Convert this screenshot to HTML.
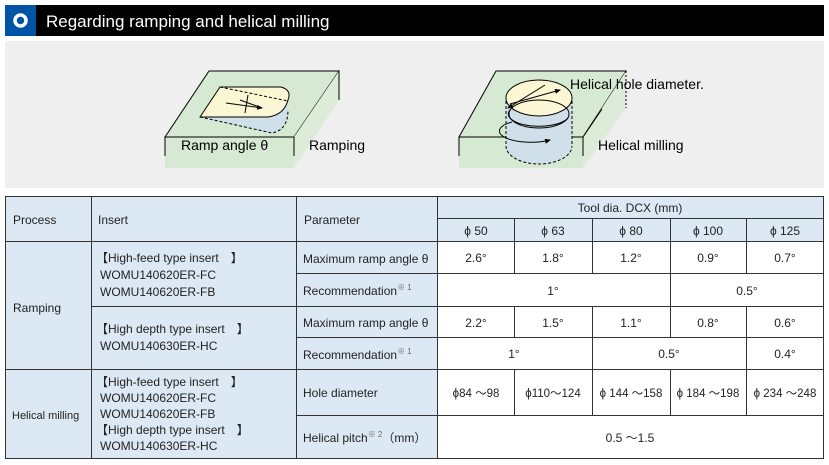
<!DOCTYPE html>
<html><head><meta charset="utf-8"><style>
body{margin:0;background:#fff;width:829px;height:465px;overflow:hidden}
svg{display:block;font-family:"Liberation Sans","Noto Sans CJK JP",sans-serif}
</style></head><body>
<svg width="829" height="465" viewBox="0 0 829 465">
<defs><marker id="a" markerWidth="6" markerHeight="6" refX="5" refY="3" orient="auto"><path d="M0,0.5 L6,3 L0,5.5z" fill="#000"/></marker></defs>
<rect x="5" y="5" width="819" height="31" fill="#000"/>
<rect x="5" y="5" width="31" height="31" fill="#0054a6"/>
<circle cx="20.5" cy="20.5" r="5.5" fill="none" stroke="#fff" stroke-width="3.5"/>
<text x="46" y="27" fill="#fff" font-size="17">Regarding ramping and helical milling</text>
<rect x="5" y="41" width="819" height="147" fill="#efefef"/>
<g stroke="#000" stroke-width="1" fill="#d6ead3">
<polygon points="165,137 209,71 339,71 294,137"/>
<polygon points="294,137 339,71 339,100 294,168" fill="#dcecd8" stroke="none"/>
<line x1="339" y1="71" x2="339" y2="100"/>
<rect x="165" y="137" width="129" height="31" stroke="none"/>
<line x1="165" y1="137" x2="294" y2="137"/><line x1="165" y1="137" x2="165" y2="156"/><line x1="294" y1="137" x2="294" y2="156"/>
</g>
<path d="M200,117 L268,117 Q284,115 288,100 L288,110 Q286,130 272,133 Z" fill="#cfe0ea" stroke="none"/>
<path d="M200,117 L220,87 L281,87 Q292,90 288,100 Q284,115 268,117 Z" fill="#fbf6d3" stroke="#000"/>
<path d="M200,117 L272,133 Q288,130 288,110" fill="none" stroke="#000" stroke-dasharray="3,2"/>
<line x1="220" y1="87" x2="288" y2="101" stroke="#000" stroke-dasharray="3,2"/>
<line x1="226" y1="103" x2="262" y2="108" stroke="#000" marker-end="url(#a)"/>
<line x1="262" y1="108" x2="240" y2="100" stroke="#000"/>
<line x1="248" y1="95" x2="245" y2="113" stroke="#000"/>
<text x="181" y="150" font-size="14">Ramp angle θ</text>
<text x="309" y="150" font-size="14">Ramping</text>
<g stroke="#000" fill="#d6ead3">
<polygon points="459,137 496,71 626,71 583,137" />
<polygon points="583,137 626,71 626,108 583,168" fill="#dcecd8" stroke="none"/>
<line x1="626" y1="71" x2="626" y2="108" stroke-dasharray="2,2"/>
<rect x="459" y="137" width="124" height="31" stroke="none"/>
<line x1="459" y1="137" x2="583" y2="137"/><line x1="459" y1="137" x2="459" y2="156"/><line x1="583" y1="137" x2="583" y2="156"/>
<line x1="583" y1="137" x2="602" y2="109"/>
</g>
<path d="M506,101 L506,146 A33,18 0 0 0 572,146 L572,101 Z" fill="#cfe0ea"/>
<line x1="506" y1="101" x2="506" y2="146" stroke="#000" stroke-dasharray="3,2"/>
<line x1="572" y1="101" x2="572" y2="146" stroke="#000" stroke-dasharray="3,2"/>
<path d="M506,146 A33,18 0 0 0 572,146" fill="none" stroke="#000" stroke-dasharray="3,2"/>
<ellipse cx="539" cy="98" rx="33" ry="18" fill="#fbf6d3" stroke="#000"/>
<ellipse cx="539" cy="114" rx="30" ry="14" fill="none" stroke="#000"/>
<path d="M510,110 A30,12 0 0 0 568,118" fill="none" stroke="#000"/>
<path d="M512,122 A28,10 0 0 0 550,140" fill="none" stroke="#000" marker-end="url(#a)"/>
<line x1="510" y1="104" x2="560" y2="90" stroke="#000" marker-end="url(#a)"/>
<line x1="545" y1="85" x2="508" y2="108" stroke="#000" marker-end="url(#a)"/>
<text x="570" y="89" font-size="14">Helical hole diameter.</text>
<text x="598" y="150" font-size="14">Helical milling</text>
<g font-size="12" fill="#222">
<rect x="5" y="196" width="432" height="45" fill="#dde8f5"/>
<rect x="437" y="196" width="387" height="45" fill="#dde8f5"/>
<rect x="5" y="241" width="432" height="218" fill="#dde8f5"/>
<rect x="437" y="241" width="387" height="218" fill="#fff"/>
<g stroke="#333" stroke-width="1" fill="none">
<rect x="5.5" y="196.5" width="818" height="262"/>
<line x1="91.5" y1="196" x2="91.5" y2="459"/>
<line x1="296.5" y1="196" x2="296.5" y2="459"/>
<line x1="437.5" y1="196" x2="437.5" y2="459"/>
<line x1="437" y1="218.5" x2="824" y2="218.5"/>
<line x1="5" y1="241.5" x2="824" y2="241.5"/>
<line x1="296" y1="273.5" x2="824" y2="273.5"/>
<line x1="91" y1="306.5" x2="824" y2="306.5"/>
<line x1="296" y1="337.5" x2="824" y2="337.5"/>
<line x1="5" y1="369.5" x2="824" y2="369.5"/>
<line x1="296" y1="415.5" x2="824" y2="415.5"/>
<line x1="514.5" y1="218" x2="514.5" y2="273"/><line x1="592.5" y1="218" x2="592.5" y2="273"/><line x1="670.5" y1="218" x2="670.5" y2="306"/><line x1="746.5" y1="218" x2="746.5" y2="273"/>
<line x1="514.5" y1="306" x2="514.5" y2="337"/><line x1="592.5" y1="306" x2="592.5" y2="369"/><line x1="670.5" y1="306" x2="670.5" y2="337"/><line x1="746.5" y1="306" x2="746.5" y2="369"/>
<line x1="514.5" y1="369" x2="514.5" y2="415"/><line x1="592.5" y1="369" x2="592.5" y2="415"/><line x1="670.5" y1="369" x2="670.5" y2="415"/><line x1="746.5" y1="369" x2="746.5" y2="415"/>
</g>
<text x="13" y="224">Process</text><text x="98" y="224">Insert</text><text x="304" y="224">Parameter</text>
<g text-anchor="middle">
<text x="630" y="212">Tool dia. DCX (mm)</text>
<text x="476" y="235">ϕ 50</text><text x="553" y="235">ϕ 63</text><text x="631" y="235">ϕ 80</text><text x="708" y="235">ϕ 100</text><text x="785" y="235">ϕ 125</text>
<text x="476" y="262">2.6°</text><text x="553" y="262">1.8°</text><text x="631" y="262">1.2°</text><text x="708" y="262">0.9°</text><text x="785" y="262">0.7°</text>
<text x="553" y="295">1°</text><text x="747" y="295">0.5°</text>
<text x="476" y="327">2.2°</text><text x="553" y="327">1.5°</text><text x="631" y="327">1.1°</text><text x="708" y="327">0.8°</text><text x="785" y="327">0.6°</text>
<text x="514" y="358">1°</text><text x="669" y="358">0.5°</text><text x="785" y="358">0.4°</text>
<g font-size="11.5"><text x="476" y="397">ϕ84 ～98</text><text x="553" y="397">ϕ110～124</text><text x="631" y="397">ϕ 144 ～158</text><text x="708" y="397">ϕ 184 ～198</text><text x="785" y="397">ϕ 234 ～248</text></g>
<text x="630" y="442">0.5 ～1.5</text>
</g>
<text x="13" y="312">Ramping</text>
<text x="12" y="419" font-size="11">Helical milling</text>
<text x="96" y="262">【High-feed type insert　】</text>
<text x="100" y="279">WOMU140620ER-FC</text>
<text x="100" y="296">WOMU140620ER-FB</text>
<text x="96" y="333">【High depth type insert　】</text>
<text x="100" y="350">WOMU140630ER-HC</text>
<text x="96" y="386">【High-feed type insert　】</text>
<text x="100" y="402">WOMU140620ER-FC</text>
<text x="100" y="418">WOMU140620ER-FB</text>
<text x="96" y="434">【High depth type insert　】</text>
<text x="100" y="450">WOMU140630ER-HC</text>
<text x="303" y="263">Maximum ramp angle θ</text>
<text x="303" y="295">Recommendation<tspan font-size="8" dy="-5" fill="#666">※ 1</tspan></text>
<text x="303" y="327">Maximum ramp angle θ</text>
<text x="303" y="359">Recommendation<tspan font-size="8" dy="-5" fill="#666">※ 1</tspan></text>
<text x="303" y="397">Hole diameter</text>
<text x="303" y="442">Helical pitch<tspan font-size="8" dy="-5" fill="#666">※ 2</tspan><tspan dy="5">（mm）</tspan></text>
</g>
</svg>
</body></html>
